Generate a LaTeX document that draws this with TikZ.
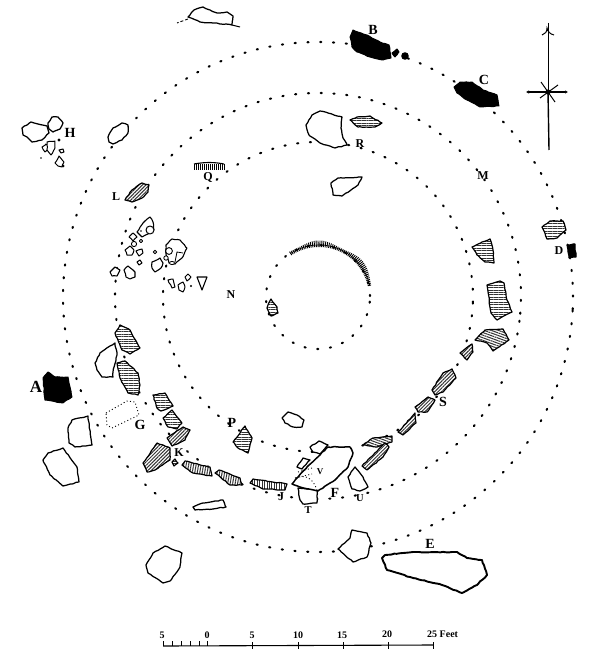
\documentclass[tikz,border=0pt]{standalone}
\usepackage{fontspec}
\setmainfont{Liberation Serif}
\usetikzlibrary{patterns.meta,arrows.meta,decorations.pathmorphing}
\tikzset{
  rough/.style={decorate,decoration={random steps,segment length=3pt,amplitude=.4pt}},
  rock/.style={draw=black,line width=1.25pt,fill=white,line join=round},
  solidrock/.style={draw=black,line width=1pt,fill=black,line join=round},
  hrock/.style={draw=black,line width=1.2pt,preaction={fill=white},line join=round,
    pattern={Lines[angle=#1,distance=2.45pt,line width=1pt]},pattern color=black!80},
  hrock/.default=0,
  ring/.style={line width=2.1pt,line cap=round,dash pattern=on 1.2pt off 11.6pt},
  thindots/.style={line width=.9pt,dash pattern=on 1pt off 2.4pt},
  lbl/.style={font=\bfseries\fontsize{12}{13}\selectfont,inner sep=0pt},
  lblbig/.style={font=\bfseries\fontsize{14}{15}\selectfont,inner sep=0pt},
  lblsmall/.style={font=\bfseries\fontsize{10.5}{11}\selectfont,inner sep=0pt},
  scalelbl/.style={font=\bfseries\fontsize{10}{11}\selectfont,inner sep=0pt}
}
\newcommand\stone[2][rock]{\draw[rough,#1] plot coordinates {#2} -- cycle;}
\newcommand\ringcircle[3]{\draw[ring] plot[domain=0:360,samples=200,smooth] ({318+#1*cos(\x+#3)},{#2+#1*sin(\x+#3)});}
\begin{document}
\begin{tikzpicture}[x=1pt,y=-1pt]
\useasboundingbox (0,0) rectangle (600,660);
\fill[white] (0,0) rectangle (600,660);
% dotted rings
\ringcircle{255}{297}{3}
\ringcircle{203}{296}{7}
\ringcircle{155}{297}{2}
\ringcircle{52}{297}{5}
% hatched upper arc of the small ring
\draw[line width=.7pt] plot[domain=-123:-13,samples=50,smooth] ({319+52*cos(\x)},{297+52*sin(\x)});
\foreach \a in {-123,-121,...,-13}{
  \draw[line width=.9pt] ({319+50*cos(\a)},{297+50*sin(\a)}) -- ({319+(55+1.5*sin(7*\a))*cos(\a)},{297+(55+1.5*sin(7*\a))*sin(\a)});
}
% top fragment
\draw[line width=1pt] (232,25) -- (240,27);
\draw[line width=.9pt,dash pattern=on 3pt off 2pt] (188,19) -- (177,23);
\stone{(188,17)(194,10)(203,7)(210,10)(217,13)(227,12)(233,16)(232,25)(213,23)(200,22)}
% H group
\stone{(22,128)(31,122)(38,124)(47,126)(49,133)(42,140)(32,142)(27,137)(23,135)}
\stone{(48,123)(52,117)(58,117)(63,123)(60,129)(53,132)(49,129)}
\stone[rock,line width=1pt]{(42,147)(46,144)(49,148)(45,152)}
\stone[rock,line width=1pt]{(47,142)(55,141)(55,148)(51,155)(47,150)}
\stone[rock,line width=1pt]{(59,150)(63,149)(64,152)(61,153)}
\stone[rock,line width=1pt]{(55,163)(59,156)(64,162)(62,167)(58,166)}
\fill (59,140) circle (1.7);
\fill (41,158) circle (.9);
\fill (63,166) circle (1.5);
% outer ring white stones
\stone{(108,137)(113,128)(122,123)(128,125)(128,133)(122,140)(113,144)(109,142)}
\stone[hrock=45]{(125,200)(132,190)(142,183)(149,185)(148,192)(142,198)(132,202)}
% Q comb
\foreach \t in {194,196,...,224}{\draw[line width=.8pt] (\t,164) -- (\t,170);}
\draw[line width=1.1pt] (194,164) .. controls (205,162) and (214,162) .. (224,164);
% cluster between L and N
\stone[rock,line width=1.1pt]{(137,232)(143,223)(150,217)(153,222)(154,230)(148,234)(142,237)}
\draw[rock,line width=1pt] (150,230) circle (4);
\fill (141,231) circle (.9);
\stone[rock,line width=1pt]{(129,237)(133,233)(137,237)(133,241)}
\draw[rock,line width=.9pt] (134,244) circle (2.6);
\draw[rock,line width=.8pt] (141,241) circle (1.7);
\stone[rock,line width=1pt]{(125,250)(130,246)(134,250)(132,255)(127,255)}
\stone[rock,line width=1pt]{(136,251)(142,249)(143,253)(139,256)}
\stone[rock,line width=1pt]{(137,262)(140,260)(142,263)(139,265)}
\stone[rock,line width=1.1pt]{(110,272)(115,267)(120,270)(117,276)(112,276)}
\stone[rock,line width=1.1pt]{(124,270)(128,266)(135,272)(135,277)(130,279)(126,277)}
\stone[rock,line width=1.1pt]{(152,262)(160,258)(163,263)(161,268)(155,272)(152,268)}
\stone[rock,line width=1.1pt]{(166,245)(172,239)(180,240)(187,248)(182,258)(175,264)(169,263)(166,254)}
\draw[rock,line width=.9pt] (169,251) circle (3.4);
\draw[line width=.8pt] (175,262) -- (177,252) -- (183,253);
\draw[rock,line width=.8pt] (166,258) circle (2.2);
\draw[rock,line width=.8pt] (172,263) ellipse (2.5 and 1.6);
\draw[rock,line width=.8pt] (155,252) circle (1.8);
\stone[rock,line width=1pt]{(168,280)(173,279)(175,287)(172,288)}
\stone[rock,line width=1pt]{(178,285)(183,282)(185,287)(183,292)(179,290)}
\stone[rock,line width=1pt]{(185,277)(188,274)(191,277)(187,281)}
\fill (191,286) circle (1.2);
\draw[rock,line width=1.1pt] (197,277) -- (207,277) -- (202,290) -- cycle;
\stone[hrock]{(267,308)(271,299)(277,307)(278,313)(271,316)}
% solid stones at top right
\stone[solidrock]{(350,37)(353,30)(367,35)(380,42)(389,45)(391,58)(383,60)(370,57)(357,52)(352,47)}
\stone[solidrock]{(392,53)(397,49)(399,52)(395,57)}
\fill (405,56) circle (3.8);
\stone[solidrock]{(454,87)(460,82)(472,82)(483,90)(497,95)(499,106)(480,107)(467,100)(457,93)}
% compass
\draw[line width=.6pt] (548,23) -- (548,92);
\draw[line width=1.4pt] (548,92) -- (549,150);
\draw[line width=1pt] (542,35) .. controls (545,34) and (547,32) .. (547,28) .. controls (548,32) and (550,34) .. (554,35);
\draw[line width=1.1pt,{Latex[length=3pt,width=3.5pt]}-{Latex[length=3pt,width=3.5pt]}] (526,92) -- (568,92);
\draw[line width=1pt] (541,82) -- (555,102);
\draw[line width=1pt] (540,98) -- (558,85);
\fill (548,92) circle (2.6);
% R and neighbours
\stone{(306,125)(312,115)(320,111)(342,117)(341,128)(343,138)(347,145)(335,148)(320,143)(309,135)}
\stone[hrock]{(350,120)(357,117)(370,116)(382,123)(375,127)(358,127)}
\stone{(331,183)(338,178)(362,177)(358,185)(342,196)(333,195)}
% D
\stone[hrock]{(542,227)(550,221)(563,221)(566,230)(557,238)(547,239)}
\stone[solidrock]{(567,245)(575,244)(576,257)(569,258)}
% right side, inner ring stones
\stone[hrock]{(472,247)(482,242)(490,239)(493,250)(494,263)(485,262)(477,255)}
\stone[hrock]{(487,285)(500,281)(504,283)(507,300)(512,312)(497,320)(491,313)}
\stone[hrock=-20]{(475,340)(485,330)(503,329)(509,340)(493,351)(487,343)}
\stone[hrock=45]{(460,353)(472,344)(473,352)(467,360)}
\stone[hrock=45]{(432,390)(443,373)(452,369)(456,378)(443,392)(435,395)}
\stone[hrock=45]{(415,407)(428,397)(435,400)(427,412)(418,412)}
\stone[hrock=45]{(398,432)(415,413)(416,423)(403,435)}
\stone[hrock=-20]{(363,445)(373,438)(392,436)(392,442)(377,447)}
\stone[hrock=45]{(362,466)(385,443)(389,447)(383,457)(367,470)}
% F group
\stone{(310,447)(319,441)(328,445)(320,454)(313,452)}
\stone{(297,467)(303,458)(310,460)(302,469)}
\stone{(298,488)(317,490)(317,503)(303,504)(300,500)}
\stone[rock,line width=1.5pt]{(292,484)(307,467)(328,447)(350,447)(353,453)(348,467)(335,480)(318,491)(300,487)}
\draw[thindots] (298,472) -- (312,468);
\draw[thindots] (295,478) -- (312,474);
\draw[thindots] (296,478) .. controls (305,474) and (313,478) .. (317,490);
\stone{(348,477)(355,467)(363,477)(368,487)(360,491)(352,489)}
% bottom white stones
\stone{(338,549)(350,538)(352,530)(367,533)(371,543)(367,557)(353,562)}
\stone[rock,line width=1.9pt]{(382,558)(385,555)(413,552)(457,552)(467,558)(482,560)(487,575)(477,585)(462,593)(442,585)(413,578)(387,570)}
\stone{(282,418)(288,412)(297,415)(304,420)(302,427)(293,427)(285,423)}
% left side
\stone[hrock]{(115,333)(120,325)(130,330)(140,348)(130,354)(122,350)}
\stone{(95,363)(100,353)(115,343)(117,355)(113,372)(113,377)(102,377)(97,370)}
\stone[hrock]{(117,363)(125,361)(138,373)(140,385)(138,395)(128,393)(120,378)}
\stone[solidrock]{(43,378)(48,372)(55,377)(68,377)(72,397)(63,403)(45,400)}
\stone[hrock]{(153,395)(165,393)(173,406)(161,411)(157,408)}
\stone[hrock]{(163,418)(172,410)(182,423)(177,429)(168,427)}
\stone[hrock=45]{(167,438)(183,427)(190,430)(185,440)(172,446)}
\stone[hrock=45]{(143,463)(157,443)(170,448)(170,460)(155,470)(147,472)}
\stone[hrock]{(172,462)(175,459)(178,463)(174,466)}
\stone[hrock=80]{(182,465)(185,461)(210,467)(212,476)(193,473)}
\stone[hrock=80]{(215,473)(219,470)(240,478)(242,485)(230,485)}
\stone[hrock=90]{(250,483)(253,479)(287,484)(285,490)(263,489)}
\stone[hrock]{(233,442)(245,426)(252,438)(248,453)(238,448)}
\stone{(68,428)(72,420)(88,416)(92,445)(75,447)(69,443)}
\stone{(43,460)(48,453)(63,448)(77,467)(79,482)(63,486)(50,475)}
\stone{(193,507)(203,503)(223,500)(226,507)(213,509)(195,510)}
\stone{(146,565)(153,553)(165,546)(182,553)(180,567)(170,581)(163,583)(148,573)}
% G dotted enclosure
\draw[thindots,line join=round] (106,413) -- (127,401) -- (135,402) -- (139,415) -- (112,428) -- (107,425) -- cycle;
% labels
\node[lbl,font=\bfseries\fontsize{17}{18}\selectfont] (lA) at (36,387) {A};
\node[lblbig] (lB) at (373,30) {B};
\node[lblbig] (lC) at (484,80) {C};
\node[lbl] (lD) at (559,251) {D};
\node[lblbig] (lE) at (430,544) {E};
\node[lblbig] (lF) at (335,493) {F};
\node[lblbig] (lG) at (140,425) {G};
\node[lblbig] (lH) at (70,133) {H};
\node[lbl] (lJ) at (281,497) {J};
\node[lbl] (lK) at (179,453) {K};
\node[lbl] (lL) at (116,197) {L};
\node[lbl] (lM) at (483,176) {M};
\node[lbl] (lN) at (231,295) {N};
\node[lblbig] (lP) at (232,423) {P};
\node[lbl] (lQ) at (208,178) {Q};
\node[lbl] (lR) at (360,144) {R};
\node[lblbig] (lS) at (443,402) {S};
\node[lblsmall] (lT) at (308,510) {T};
\node[lblsmall] (lU) at (360,498) {U};
\node[lbl,font=\bfseries\fontsize{9}{10}\selectfont] (lV) at (320,472) {V};
% scale bar
\draw[line width=1.1pt] (163,646) -- (433,645);
\foreach \t in {163,172,181,190,199,207}{\draw[line width=.7pt] (\t,641) -- (\t,646);}
\foreach \t in {252,298,343,388,433}{\draw[line width=.7pt] (\t,642) -- (\t,649);}
\node[scalelbl] (s5a) at (162,635) {5};
\node[scalelbl] (s0) at (207,635) {0};
\node[scalelbl] (s5) at (252,635) {5};
\node[scalelbl] (s10) at (298,635) {10};
\node[scalelbl] (s15) at (342,635) {15};
\node[scalelbl] (s20) at (387,634) {20};
\node[scalelbl,anchor=west] (s25) at (427,634) {25 Feet};
\end{tikzpicture}
\end{document}
